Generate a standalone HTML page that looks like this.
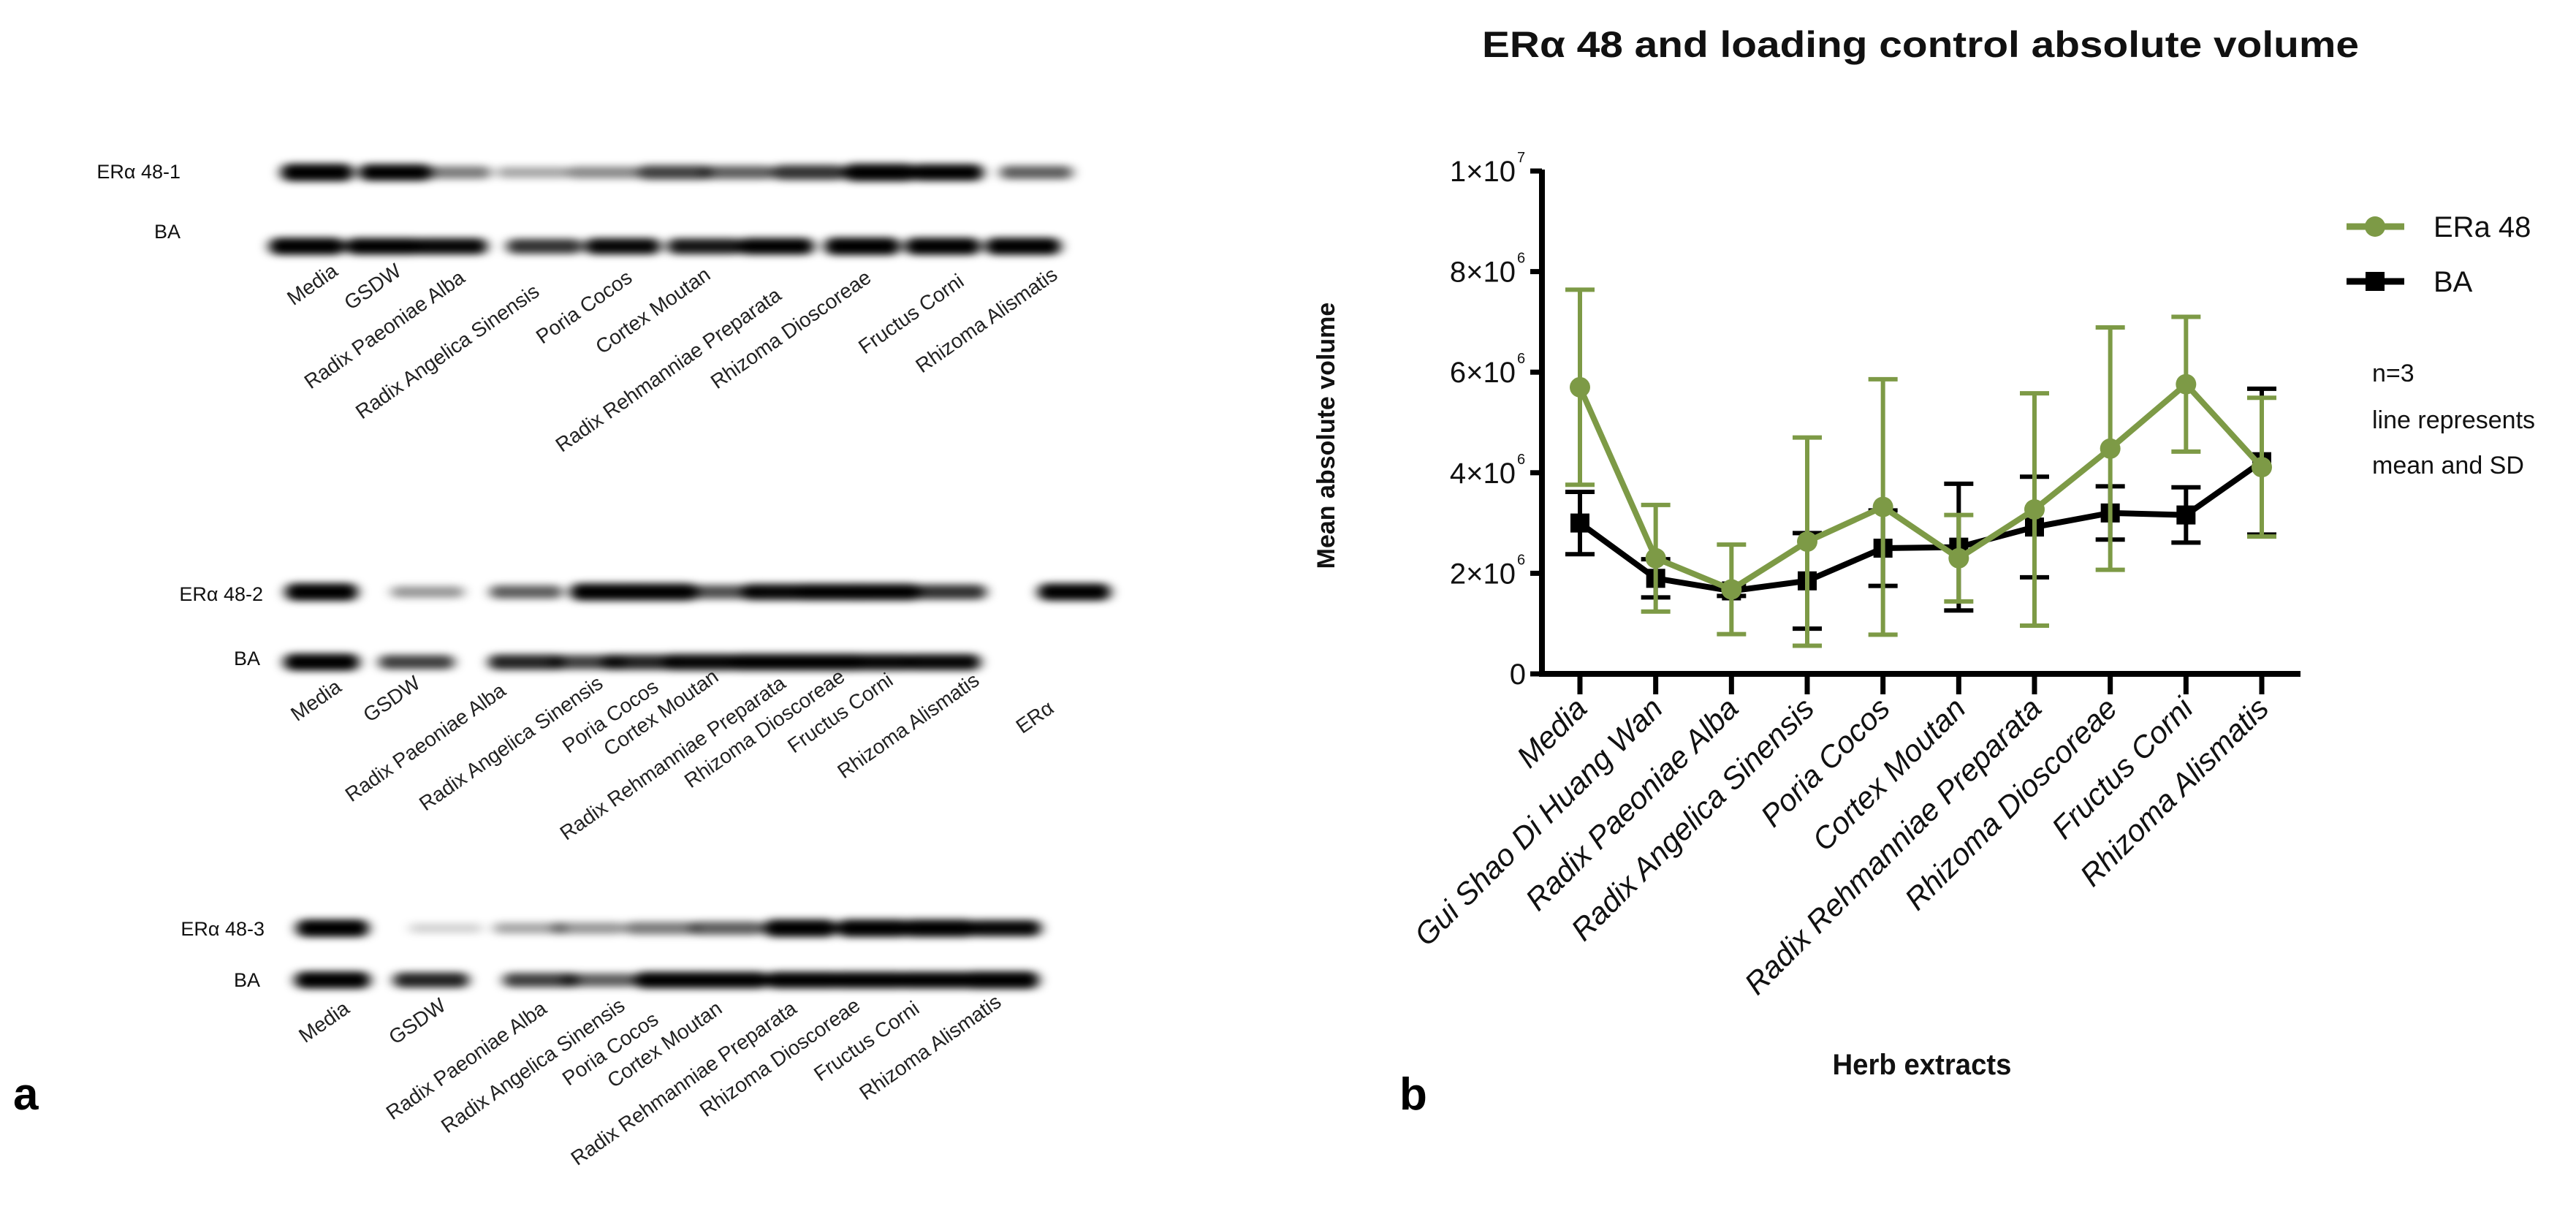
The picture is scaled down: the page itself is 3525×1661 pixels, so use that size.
<!DOCTYPE html>
<html><head><meta charset="utf-8"><style>
html,body{margin:0;padding:0;background:#fff;}
svg{display:block;}
</style></head><body>
<svg id="fig" width="3525" height="1661" viewBox="0 0 3525 1661" xmlns="http://www.w3.org/2000/svg">
<defs>
<filter id="blur" x="-50%" y="-100%" width="200%" height="300%"><feGaussianBlur stdDeviation="8 5"/></filter>
</defs>
<rect width="3525" height="1661" fill="#fff"/>
<g id="blots" font-family="'Liberation Sans', sans-serif" fill="#111"></g>
<text x="18" y="1518" font-family="'Liberation Sans', sans-serif" font-weight="bold" font-size="62">a</text>
<text x="1915" y="1518" font-family="'Liberation Sans', sans-serif" font-weight="bold" font-size="62">b</text>
<g id="chart"></g>
</svg>
<script>
// ----- chart data -----
const categories = ["Media","Gui Shao Di Huang Wan","Radix Paeoniae Alba","Radix Angelica Sinensis","Poria Cocos","Cortex Moutan","Radix Rehmanniae Preparata","Rhizoma Dioscoreae","Fructus Corni","Rhizoma Alismatis"];
const eraMean = [5.7,2.3,1.68,2.63,3.32,2.3,3.27,4.48,5.76,4.11];
const eraSD   = [1.94,1.06,0.89,2.07,2.54,0.86,2.31,2.41,1.34,1.38];
const baMean  = [3.0,1.9,1.65,1.85,2.5,2.52,2.92,3.2,3.16,4.22];
const baSD    = [0.62,0.38,0.1,0.95,0.75,1.26,1.0,0.53,0.55,1.45];
const yTicks  = [0,2,4,6,8,10];
const yTickLabels = ["0","2×10","4×10","6×10","8×10","1×10"];
const yTickExp = ["","6","6","6","6","7"];

// ----- blot data -----
const blotLaneNames1 = ["Media","GSDW","Radix Paeoniae Alba","Radix Angelica Sinensis","Poria Cocos","Cortex Moutan","Radix Rehmanniae Preparata","Rhizoma Dioscoreae","Fructus Corni","Rhizoma Alismatis"];
const blotLaneNames2 = ["Media","GSDW","Radix Paeoniae Alba","Radix Angelica Sinensis","Poria Cocos","Cortex Moutan","Radix Rehmanniae Preparata","Rhizoma Dioscoreae","Fructus Corni","Rhizoma Alismatis","ERα"];
const era1 = [1,0.9,0.45,0.3,0.4,0.65,0.55,0.7,1,0.9,0.55];
const ba1  = [0.95,0.9,0.85,0.7,0.85,0.8,0.9,1,0.95,0.95];
const era2 = [1,0.35,0.55,0.95,0.95,0.6,0.85,0.9,0.9,0.7,0.95];
const ba2  = [0.95,0.65,0.75,0.65,0.75,0.85,0.9,0.9,0.85,0.85];
const era3 = [1,0.15,0.3,0.35,0.45,0.55,1,1,1,0.85];
const ba3  = [0.95,0.75,0.65,0.55,0.9,0.9,0.9,0.9,0.9,1];

const NS="http://www.w3.org/2000/svg";
function mk(tag, attrs, parent, txt){const e=document.createElementNS(NS,tag);for(const k in attrs)e.setAttribute(k,attrs[k]);if(txt!==undefined)e.textContent=txt;parent.appendChild(e);return e;}

// ===== blots =====
const blots=document.getElementById('blots');
const blotDefs=[
 {label:"ERα 48-1",lx:247,ly:244,bx:247,by:326,ey:236,byy:337,
  eraX:[434,541,622,730,827,923,1010,1107,1204,1296,1418],baX:[420,525,615,745,852,965,1062,1180,1290,1400],era:era1,ba:ba1,
  names:blotLaneNames1,ends:[[464,375],[551,375],[638,384],[740,403],[867,384],[974,380],[1071,408],[1194,384],[1321,389],[1449,380]]},
 {label:"ERα 48-2",lx:360,ly:822,bx:356,by:910,ey:810,byy:906,
  eraX:[440,585,720,830,905,990,1065,1140,1210,1300,1470],baX:[440,570,720,805,875,960,1050,1130,1200,1290],era:era2,ba:ba2,
  names:blotLaneNames2,ends:[[469,944],[577,939],[694,949],[827,939],[903,944],[985,930],[1077,939],[1158,930],[1224,935],[1342,935],[1444,973]]},
 {label:"ERα 48-3",lx:362,ly:1280,bx:356,by:1350,ey:1270,byy:1341,
  eraX:[455,610,725,805,905,995,1095,1195,1285,1375],baX:[455,590,740,820,920,1000,1100,1190,1280,1370],era:era3,ba:ba3,
  names:blotLaneNames1,ends:[[480,1384],[612,1380],[750,1384],[857,1380],[903,1399],[990,1384],[1092,1384],[1179,1380],[1260,1384],[1372,1375]]}
];
blotDefs.forEach((b,bi)=>{
  const g=mk('g',{},blots);
  
  
  const t1=mk('text',{x:b.lx,y:b.ly,'font-size':27,'text-anchor':'end'},g,b.label);
  
  
  const t2=mk('text',{x:b.bx,y:b.by,'font-size':27,'text-anchor':'end'},g,"BA");
  
  
  const bands=mk('g',{filter:'url(#blur)'},g);
  b.era.forEach((v,i)=>{
    const h=12+12*v;
    const r=mk('rect',{x:b.eraX[i]-50,y:b.ey-h/2,width:100,height:h,rx:h/2,fill:'#000','fill-opacity':Math.min(1,v*1.15)},bands);
    
    
  });
  b.ba.forEach((v,i)=>{
    const h=12+12*v;
    const r=mk('rect',{x:b.baX[i]-52,y:b.byy-h/2,width:104,height:h,rx:h/2,fill:'#000','fill-opacity':Math.min(1,v*1.15)},bands);
    
    
  });
  b.names.forEach((n,i)=>{
    const [x,y]=b.ends[i];
    const t=mk('text',{x:x,y:y,'font-size':28,'text-anchor':'end',fill:'#222',transform:`rotate(-35 ${x} ${y})`},g,n);
    
    
  });
});

// ===== chart =====
const chart=document.getElementById('chart');
const X0=2162, X1=3095, Y0=922, Y10=234, AXL=2110, AXR=3148;
const xs=i=>X0+(X1-X0)*i/(categories.length-1);
const ys=v=>Y0-(Y0-Y10)*v/10;
const GREEN="#7d9a46";
const F="'Liberation Sans Narrow','Liberation Sans',sans-serif";

const title=mk('text',{x:2628,y:78,'text-anchor':'middle','font-family':F,'font-weight':'bold','font-size':50,fill:'#111',textLength:1200,lengthAdjust:'spacingAndGlyphs'},chart,"ERα 48 and loading control absolute volume");



const yAxis=mk('line',{x1:AXL,y1:Y10-2,x2:AXL,y2:Y0+4,stroke:'#000','stroke-width':8},chart);


const xAxis=mk('line',{x1:AXL-4,y1:Y0,x2:AXR,y2:Y0,stroke:'#000','stroke-width':8},chart);



yTicks.forEach((v,i)=>{
  const y=ys(v);
  const tk=mk('line',{x1:AXL-16,y1:y,x2:AXL,y2:y,stroke:'#000','stroke-width':7},chart);
  
  
  const t=mk('text',{x:AXL-(yTickExp[i]?36:22),y:y+14,'text-anchor':'end','font-family':F,'font-size':40,fill:'#111'},chart,yTickLabels[i]);
  
  
  if(yTickExp[i]){
    const s=mk('text',{x:AXL-34,y:y-12,'text-anchor':'start','font-family':F,'font-size':20,fill:'#111'},chart,yTickExp[i]);
    
    
  }
});

categories.forEach((c,i)=>{
  const x=xs(i);
  const tk=mk('line',{x1:x,y1:Y0,x2:x,y2:Y0+28,stroke:'#000','stroke-width':7},chart);
  
  
  const tx=x+12, ty=972;
  const t=mk('text',{x:tx,y:ty,'text-anchor':'end','font-family':F,'font-style':'italic','font-size':42,fill:'#111',transform:`rotate(-45 ${tx} ${ty})`},chart,c);
  
  
});

const yt=mk('text',{x:1826,y:596,'text-anchor':'middle','font-family':"'Liberation Sans',sans-serif",'font-weight':'bold','font-size':34,fill:'#111',transform:'rotate(-90 1826 596)'},chart,"Mean absolute volume");


const xt=mk('text',{x:2630,y:1470,'text-anchor':'middle','font-family':F,'font-weight':'bold','font-size':40,fill:'#111',textLength:245,lengthAdjust:'spacingAndGlyphs'},chart,"Herb extracts");



function series(mean,sd,color,name,marker){
  const g=mk('g',{},chart);
  
  
  mean.forEach((m,i)=>{
    const x=xs(i);
    const e=mk('path',{d:`M${x-20},${ys(m+sd[i])}H${x+20}M${x},${ys(m+sd[i])}V${ys(m-sd[i])}M${x-20},${ys(m-sd[i])}H${x+20}`,stroke:color,'stroke-width':6,fill:'none'},g);
    
    
  });
  const pts=mean.map((m,i)=>xs(i)+','+ys(m)).join(' ');
  const l=mk('polyline',{points:pts,stroke:color,'stroke-width':8,fill:'none','stroke-linejoin':'round'},g);
  
  
  mean.forEach((m,i)=>{
    let p;
    if(marker==='circle') p=mk('circle',{cx:xs(i),cy:ys(m),r:14,fill:color},g);
    else p=mk('rect',{x:xs(i)-13,y:ys(m)-13,width:26,height:26,fill:color},g);
    
    
  });
}
series(baMean,baSD,'#000','ba','square');
series(eraMean,eraSD,GREEN,'era48','circle');

// legend
const lg=mk('g',{},chart);


const l1=mk('line',{x1:3211,y1:310,x2:3290,y2:310,stroke:GREEN,'stroke-width':9},lg);


mk('circle',{cx:3250,cy:310,r:14,fill:GREEN},lg);
const lt1=mk('text',{x:3330,y:324,'font-family':F,'font-size':40,fill:'#111'},lg,"ERa 48");


const l2=mk('line',{x1:3211,y1:385,x2:3290,y2:385,stroke:'#000','stroke-width':9},lg);


mk('rect',{x:3237,y:372,width:26,height:26,fill:'#000'},lg);
const lt2=mk('text',{x:3330,y:399,'font-family':F,'font-size':40,fill:'#111'},lg,"BA");



const notes=["n=3","line represents","mean and SD"];
const noteY=[522,586,648];
notes.forEach((n,i)=>{
  const t=mk('text',{x:3246,y:noteY[i],'font-family':F,'font-size':34,fill:'#111'},chart,n);
  
  
});
</script>
</body></html>
